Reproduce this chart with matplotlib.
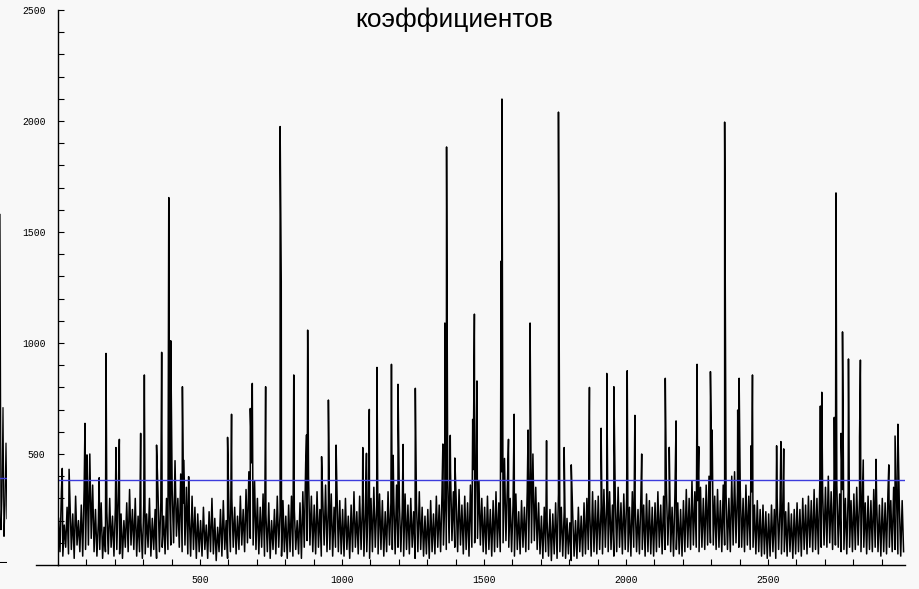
import numpy as np
import matplotlib.pyplot as plt

title = 'коэффициентов'
threshold = 385

# upper / lower swing of the signal in each block of 10 samples
env_hi = [
    210, 330, 180, 260, 290, 230, 310, 200, 270, 340,
    420, 500, 360, 250, 190, 280, 170, 240, 300, 220,
    260, 310, 230, 200, 280, 340, 250, 300, 220, 190,
    270, 230, 300, 210, 250, 330, 280, 220, 300, 360,
    340, 470, 300, 410, 280, 350, 240, 310, 260, 230,
    200, 260, 180, 240, 300, 210, 170, 250, 290, 200,
    230, 300, 260, 220, 310, 250, 340, 420, 460, 380,
    300, 260, 320, 230, 280, 200, 250, 310, 240, 290,
    220, 270, 310, 250, 200, 280, 330, 460, 400, 310,
    270, 330, 250, 300, 360, 280, 320, 260, 340, 290,
    250, 300, 220, 270, 330, 240, 310, 280, 230, 260,
    300, 350, 270, 320, 290, 240, 330, 280, 310, 360,
    280, 250, 320, 270, 300, 240, 280, 330, 260, 220,
    250, 290, 230, 310, 270, 330, 300, 380, 420, 330,
    290, 340, 270, 310, 280, 360, 430, 480, 380, 300,
    260, 310, 250, 290, 330, 280, 420, 480, 350, 300,
    270, 320, 240, 290, 260, 330, 440, 500, 350, 280,
    220, 260, 200, 250, 230, 280, 320, 260, 240, 210,
    190, 230, 200, 260, 220, 280, 300, 250, 330, 290,
    310, 260, 340, 290, 330, 270, 300, 350, 280, 320,
    300, 260, 330, 280, 250, 300, 270, 320, 290, 260,
    280, 330, 270, 310, 350, 290, 260, 320, 280, 250,
    290, 340, 300, 380, 330, 290, 350, 300, 360, 400,
    380, 310, 340, 290, 360, 320, 300, 400, 420, 330,
    340, 300, 360, 310, 330, 270, 290, 250, 270, 240,
    230, 270, 250, 300, 260, 290, 240, 280, 230, 250,
    280, 250, 300, 270, 310, 290, 340, 300, 370, 330,
    350, 400, 330, 380, 360, 320, 340, 300, 330, 290,
    320, 350, 300, 330, 280, 310, 290, 340, 300, 270,
    300, 280, 330, 290, 350, 310, 270, 290,
]
env_lo = [
    60, 40, 80, 50, 70, 30, 90, 60, 40, 70,
    90, 120, 60, 40, 70, 30, 60, 50, 80, 40,
    70, 50, 30, 80, 60, 90, 70, 40, 60, 30,
    50, 80, 40, 70, 30, 60, 80, 50, 70, 90,
    100, 130, 80, 60, 90, 50, 40, 70, 30, 60,
    40, 70, 30, 60, 50, 20, 60, 40, 70, 30,
    60, 80, 50, 70, 90, 60, 100, 120, 90, 70,
    50, 80, 40, 60, 30, 70, 50, 80, 40, 60,
    30, 60, 40, 70, 50, 30, 80, 110, 90, 60,
    50, 80, 40, 90, 60, 70, 40, 80, 60, 50,
    40, 70, 30, 60, 80, 50, 70, 40, 60, 30,
    60, 80, 50, 70, 40, 60, 90, 70, 50, 80,
    60, 40, 70, 50, 80, 30, 60, 70, 40, 50,
    30, 60, 50, 80, 60, 90, 70, 100, 110, 80,
    60, 90, 50, 70, 40, 80, 100, 120, 90, 60,
    50, 70, 40, 60, 80, 60, 100, 110, 80, 60,
    40, 70, 50, 80, 60, 70, 100, 110, 70, 50,
    30, 60, 40, 20, 50, 30, 60, 40, 30, 50,
    20, 40, 30, 60, 40, 50, 70, 40, 60, 50,
    70, 50, 80, 60, 70, 40, 60, 80, 50, 70,
    60, 40, 80, 60, 50, 70, 40, 60, 50, 40,
    60, 80, 50, 70, 90, 60, 40, 70, 50, 40,
    60, 80, 70, 90, 80, 60, 80, 70, 90, 100,
    90, 70, 80, 60, 90, 70, 60, 90, 100, 80,
    80, 60, 90, 70, 80, 50, 60, 40, 50, 30,
    40, 60, 30, 70, 50, 60, 40, 60, 30, 50,
    60, 40, 70, 50, 80, 60, 70, 50, 80, 90,
    80, 100, 70, 90, 80, 60, 70, 50, 80, 60,
    70, 90, 60, 80, 50, 70, 60, 80, 60, 40,
    60, 50, 80, 60, 70, 50, 40, 60,
]

# isolated peaks (sample index, value)
peak_pos = [15, 39, 95, 102, 145, 169, 204, 216, 291, 304, 347, 365, 390, 397,
            438, 442, 460, 597, 611, 677, 684, 731, 782, 786, 830, 875, 879,
            928, 952, 979, 1073, 1086, 1096, 1123, 1174, 1180, 1197, 1215,
            1258, 1355, 1362, 1368, 1381, 1397, 1460, 1466, 1475, 1560, 1563,
            1586, 1606, 1655, 1662, 1720, 1762, 1782, 1807, 1871, 1912, 1932,
            1957, 2004, 2031, 2055, 2138, 2152, 2176, 2250, 2256, 2297, 2303,
            2347, 2393, 2398, 2440, 2445, 2530, 2545, 2555, 2684, 2689, 2733,
            2739, 2757, 2762, 2783, 2822, 2825, 2835, 2880, 2925, 2947, 2957]
peak_val = [435, 431, 638, 496, 393, 953, 529, 566, 593, 856, 540, 958, 1655, 1010,
            803, 473, 398, 575, 679, 705, 818, 803, 1975, 1275, 856, 586, 1058,
            488, 743, 540, 529, 503, 701, 890, 904, 494, 814, 543,
            796, 545, 1090, 1883, 584, 482, 656, 1130, 829, 1369, 2099,
            566, 679, 608, 1090, 560, 2040, 529, 451, 800, 616, 863,
            803, 875, 674, 500, 841, 530, 649, 904, 533, 871, 608,
            1995, 698, 841, 537, 856, 537, 556, 523, 716, 778, 665,
            1676, 593, 1050, 928, 575, 923, 473, 476, 451, 581, 634]

# right edge of the neighbouring chart, cut off at the left border
edge_vals = [1570, 150, 300, 700, 120, 260, 540, 200]

# each block of 10 samples: its high swing, then its low swing
blk = np.arange(len(env_hi)) * 10.0
x = np.concatenate([blk + 2, blk + 7, np.array(peak_pos, float)])
y = np.concatenate([np.array(env_hi, float), np.array(env_lo, float),
                    np.array(peak_val, float)])
order = np.argsort(x, kind='stable')
x, y = x[order], y[order]

bg = '#f8f8f8'
fig = plt.figure(figsize=(9.2, 5.89), dpi=100, facecolor=bg)
ax = fig.add_axes([58 / 920, 24 / 589, 847 / 920, 555 / 589], facecolor=bg)

ax.plot(x, y, color='black', lw=1.1)
ax.axhline(threshold, color='#3c3cdc', lw=1)

ax.set_xlim(0, 2982)
ax.set_ylim(0, 2500)
for s in ['top', 'right']:
    ax.spines[s].set_visible(False)
for s in ['left', 'bottom']:
    ax.spines[s].set_linewidth(1)
ax.plot([-22 / 847, 0], [0, 0], transform=ax.transAxes, color='black',
        lw=1, clip_on=False)

ax.set_xticks([500, 1000, 1500, 2000, 2500])
ax.set_xticks(np.arange(100, 2982, 100), minor=True)
ax.set_yticks([500, 1000, 1500, 2000, 2500])
ax.set_yticks(np.arange(100, 2500, 100), minor=True)
ax.tick_params(which='both', direction='in', length=4, width=0.8,
               labelsize=7)
ax.tick_params(axis='y', which='major', pad=9)
ax.tick_params(axis='x', which='major', pad=7)
for lab in ax.get_xticklabels() + ax.get_yticklabels():
    lab.set_family('Liberation Mono')

fig.text(454 / 920, 1 - 27 / 589, title, ha='center', va='baseline',
         fontsize=19, family='Liberation Sans')

ax_e = fig.add_axes([0, 26 / 589, 7 / 920, 555 / 589])
ax_e.plot(np.arange(len(edge_vals)), edge_vals, color='black', lw=0.9)
ax_e.axhline(threshold, color='#3c3cdc', lw=1)
ax_e.axhline(0, color='black', lw=1.5)
ax_e.set_xlim(0, 7)
ax_e.set_ylim(0, 2500)
ax_e.axis('off')

fig.savefig('out.png', dpi=100, facecolor=bg)
